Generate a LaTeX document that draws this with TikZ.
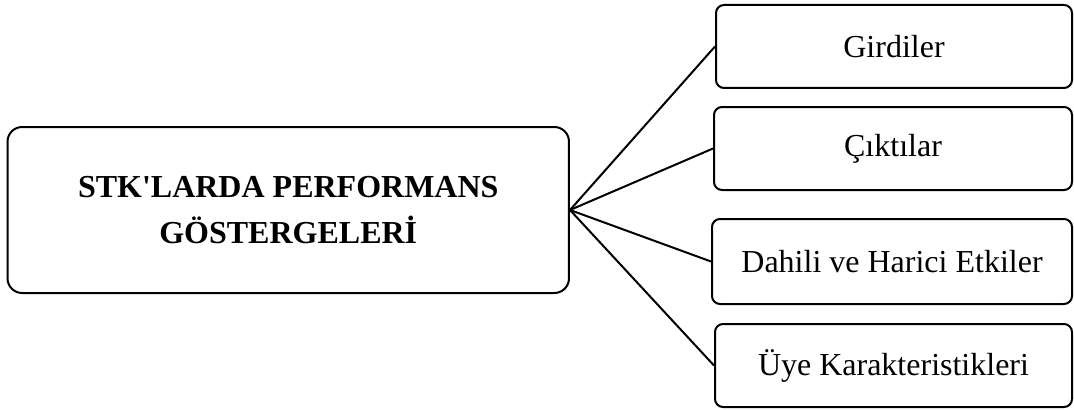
\documentclass[tikz,border=0pt]{standalone}
\usepackage{fontspec}
\setmainfont{Liberation Serif}
\begin{document}
\begin{tikzpicture}[x=0.75pt,y=-0.75pt,
  itembox/.style={draw, line width=1.5pt, rounded corners=6pt, inner sep=0pt,
    align=center, font=\fontsize{24}{34}\selectfont},
  mainbox/.style={itembox, rounded corners=11pt, font=\fontsize{24}{34}\selectfont\bfseries},
  conn/.style={line width=1.5pt}]
\useasboundingbox (0,0) rectangle (1074,410);

% central box
\node[mainbox, minimum width=421.1pt, minimum height=124.5pt] (main) at (288.25,210)
  {STK\textquotesingle LARDA PERFORMANS\\GÖSTERGELERİ};

% indicator boxes
\node[itembox, minimum width=267pt, minimum height=62.25pt] (gir) at (894,46.5) {Girdiler};
\node[itembox, minimum width=268.5pt, minimum height=62.25pt] (cik) at (893,148.5) {Çıktılar};
\node[itembox, minimum width=270pt, minimum height=63.75pt] (dah) at (892,261.5) {Dahili ve Harici Etkiler};
\node[itembox, minimum width=267.75pt, minimum height=62.25pt] (uye) at (893.5,365.5) {Üye Karakteristikleri};

% connectors
\draw[conn] (main.east) -- (gir.west);
\draw[conn] (main.east) -- (cik.west);
\draw[conn] (main.east) -- (dah.west);
\draw[conn] (main.east) -- (uye.west);
\end{tikzpicture}
\end{document}
